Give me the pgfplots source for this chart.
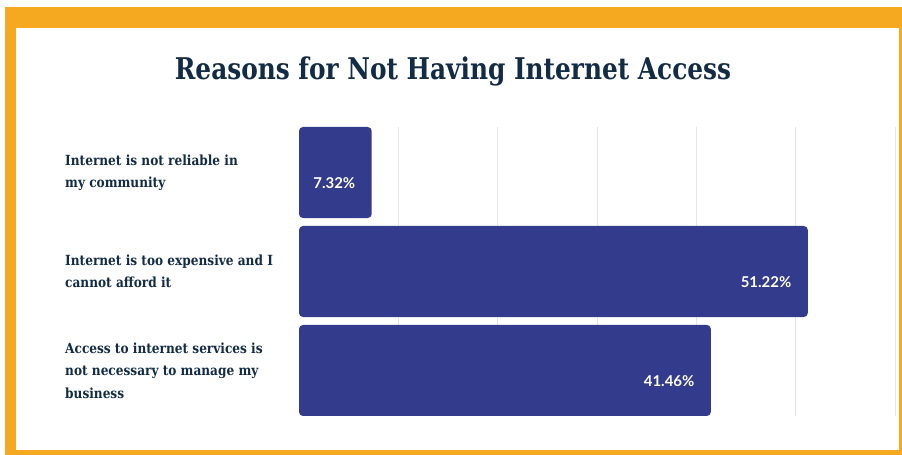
\documentclass[border=0pt]{standalone}
\usepackage{pgfplots}
\pgfplotsset{compat=1.18}
\usepackage{fontspec}
\setmainfont{DejaVu Serif}
\newfontfamily\slab{DejaVu Serif}[FakeStretch=0.87]
\newfontfamily\tslab{DejaVu Serif}[FakeStretch=0.83]
\newfontfamily\numfont{Lato}
\definecolor{barblue}{RGB}{51,60,140}
\definecolor{navy}{RGB}{18,44,70}
\definecolor{frameorange}{RGB}{244,169,33}
\definecolor{gridc}{RGB}{226,231,237}
\begin{document}
\begin{tikzpicture}[x=1bp,y=1bp]
\fill[white] (0,0) rectangle (902,455);
\fill[frameorange] (5,0) rectangle (902,448);
\fill[white] (16,5) rectangle (899,427);
\node[anchor=base, text=navy, inner sep=0pt, font=\tslab\bfseries\fontsize{30}{36}\selectfont] at (453,375) {Reasons for Not Having Internet Access};
\begin{axis}[at={(299bp,39bp)}, anchor=south west, width=596bp, height=289bp, scale only axis,
  xbar, bar width=0.92, xmin=0, xmax=60, ymin=-0.46, ymax=2.46, y dir=reverse,
  axis line style={draw=none}, major tick length=0pt,
  xtick={10,20,30,40,50,60}, xticklabels={,,,,,},
  xmajorgrids, grid style={gridc, line width=1bp},
  ytick={0,1,2},
  yticklabels={{Internet is not reliable in\\my community},{Internet is too expensive and I\\cannot afford it},{Access to internet services is\\not necessary to manage my\\business}},
  yticklabel style={anchor=west, xshift=-234bp, align=left, inner xsep=0pt, text=navy, font=\slab\bfseries\fontsize{14}{22.5}\selectfont},
  clip=false]
\addplot[fill=barblue, draw=none, rounded corners=4bp, nodes near coords, point meta=explicit symbolic,
  nodes near coords style={anchor=east, xshift=-13bp, yshift=-11bp, text=white, font=\numfont\bfseries\fontsize{15}{18}\selectfont}]
  coordinates {(7.32,0) [7.32\%] (51.22,1) [51.22\%] (41.46,2) [41.46\%]};
\end{axis}
\end{tikzpicture}
\end{document}
